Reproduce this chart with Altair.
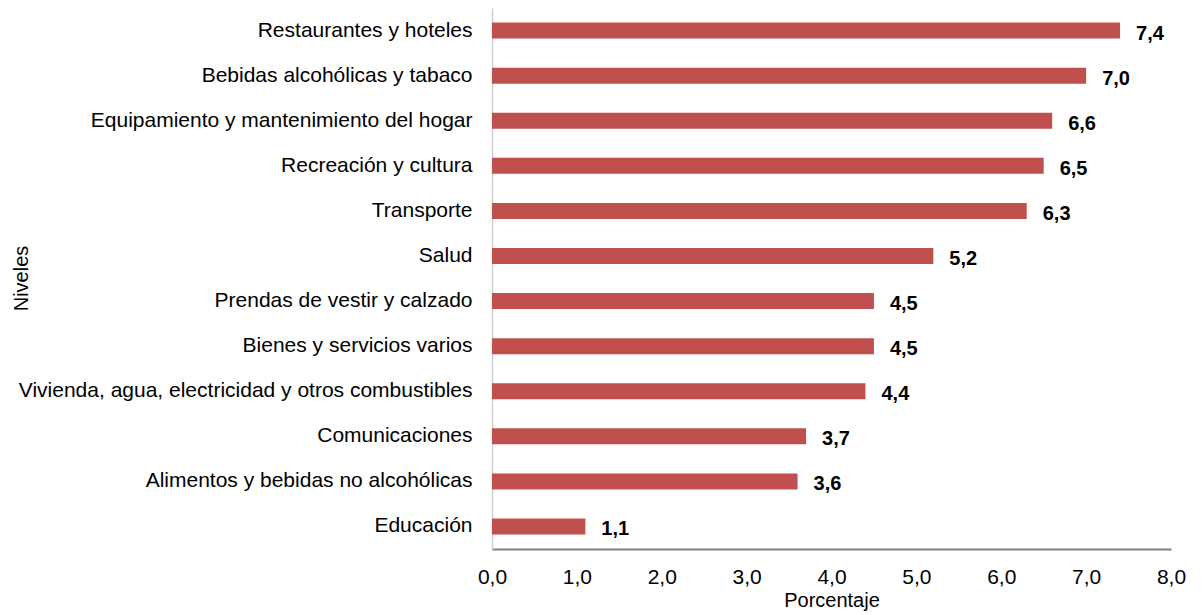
import altair as alt
import pandas as pd

categorias = [
    "Restaurantes y hoteles",
    "Bebidas alcohólicas y tabaco",
    "Equipamiento y mantenimiento del hogar",
    "Recreación y cultura",
    "Transporte",
    "Salud",
    "Prendas de vestir y calzado",
    "Bienes y servicios varios",
    "Vivienda, agua, electricidad y otros combustibles",
    "Comunicaciones",
    "Alimentos y bebidas no alcohólicas",
    "Educación",
]
valores = [7.4, 7.0, 6.6, 6.5, 6.3, 5.2, 4.5, 4.5, 4.4, 3.7, 3.6, 1.1]
ticks_x = [0, 1, 2, 3, 4, 5, 6, 7, 8]

df = pd.DataFrame({"Nivel": categorias, "Porcentaje": valores})

FONT = "Liberation Sans"

y_enc = alt.Y(
    "Nivel:N",
    sort=categorias,
    scale=alt.Scale(paddingInner=0.0, paddingOuter=0.0),
    axis=alt.Axis(
        title="Niveles",
        titleFont=FONT,
        titleFontSize=20,
        titleFontWeight="normal",
        titleColor="#000000",
        titleX=-461,
        titleY=270,
        titleAngle=270,
        titleBaseline="bottom",
        labelFont=FONT,
        labelFontSize=21,
        labelColor="#000000",
        labelPadding=20,
        labelLimit=700,
        ticks=False,
        grid=False,
        domainColor="#d0d0d0",
        domainWidth=1.5,
    ),
)

x_enc = alt.X(
    "Porcentaje:Q",
    scale=alt.Scale(domain=[0, 8], nice=False),
    axis=alt.Axis(
        title="Porcentaje",
        titleFont=FONT,
        titleFontSize=20,
        titleFontWeight="normal",
        titleColor="#000000",
        titlePadding=3,
        values=ticks_x,
        labelExpr="replace(format(datum.value, '.1f'), '.', ',')",
        labelFont=FONT,
        labelFontSize=21,
        labelColor="#000000",
        labelPadding=17,
        labelFlush=False,
        ticks=False,
        grid=False,
        domainColor="#808080",
        domainWidth=2,
    ),
)

base = alt.Chart(df).encode(y=y_enc, x=x_enc)

bars = base.mark_bar(color="#C0504D", size=16)

labels = base.transform_calculate(
    etiqueta="replace(format(datum.Porcentaje, '.1f'), '.', ',')"
).mark_text(
    align="left",
    baseline="middle",
    dx=16,
    dy=3,
    font=FONT,
    fontSize=20,
    fontWeight="bold",
    color="#000000",
).encode(text="etiqueta:N")

chart = (
    (bars + labels)
    .properties(
        width=679,
        height=541,
        background="white",
        autosize=alt.AutoSizeParams(type="none"),
        padding={"left": 484, "top": 0, "right": 20, "bottom": 66},
    )
    .configure_view(stroke=None, strokeWidth=0)
    .configure_axis(grid=False)
)

chart.save("out.html", embed_options={"renderer": "svg", "actions": False})
